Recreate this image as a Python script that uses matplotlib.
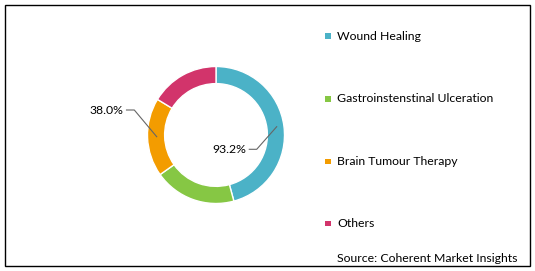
import matplotlib
matplotlib.use("Agg")
import matplotlib.pyplot as plt
from matplotlib.patches import Rectangle

categories = ["Wound Healing", "Gastroinstenstinal Ulceration", "Brain Tumour Therapy", "Others"]
values = [45.8, 19.4, 18.5, 16.3]
colors = ["#4BB2C7", "#86C744", "#F39C00", "#D2346B"]
label_texts = ["93.2%", "38.0%"]
source = "Source: Coherent Market Insights"

W, H = 535, 271
fig = plt.figure(figsize=(W / 100, H / 100), dpi=100)
plt.rcParams['font.family'] = ['Lato', 'DejaVu Sans']
FS = 8.8

# border
fig.add_artist(Rectangle((4.5 / W, 1 - 265.5 / H), 525.5 / W, 261 / H, transform=fig.transFigure,
                         fill=False, edgecolor="black", linewidth=1.0))

cx, cy, R = 216, 135, 68.5
half = 100
ax = fig.add_axes([(cx - half) / W, 1 - (cy + half) / H, 2 * half / W, 2 * half / H])
ax.pie(values, colors=colors, startangle=90, counterclock=False, radius=1.0,
       wedgeprops=dict(width=0.25, edgecolor="white", linewidth=1.0))
lim = half / R
ax.set_xlim(-lim, lim)
ax.set_ylim(-lim, lim)
ax.set_aspect("equal")
ax.axis("off")

def d(px, py):
    return ((px - cx) / R, (cy - py) / R)

# leader for 93.2%
pts = [d(276.7, 126.7), d(256.7, 149.3), d(249.3, 149.3)]
ax.plot([p[0] for p in pts], [p[1] for p in pts], color="#666666", lw=0.8, clip_on=False)
tx, ty = d(246, 149.3)
ax.text(tx, ty, label_texts[0], ha="right", va="center", fontsize=FS, color="black")

pts = [d(156.7, 136.7), d(134.3, 110), d(126.5, 110)]
ax.plot([p[0] for p in pts], [p[1] for p in pts], color="#666666", lw=0.8, clip_on=False)
tx, ty = d(123.5, 110)
ax.text(tx, ty, label_texts[1], ha="right", va="center", fontsize=FS, color="black")

# legend
rows = [36, 99, 161.5, 223.3]
for cat, col, ry in zip(categories, colors, rows):
    s = 5.5
    fig.add_artist(Rectangle((325 / W, 1 - (ry + s / 2) / H), s / W, s / H,
                             transform=fig.transFigure, facecolor=col, edgecolor="none"))
    fig.text(337 / W, 1 - ry / H, cat, ha="left", va="center", fontsize=FS, color="black")

fig.text(337 / W, 1 - 258.5 / H, source, ha="left", va="center", fontsize=FS, color="black")

fig.savefig("out.png", dpi=100)
